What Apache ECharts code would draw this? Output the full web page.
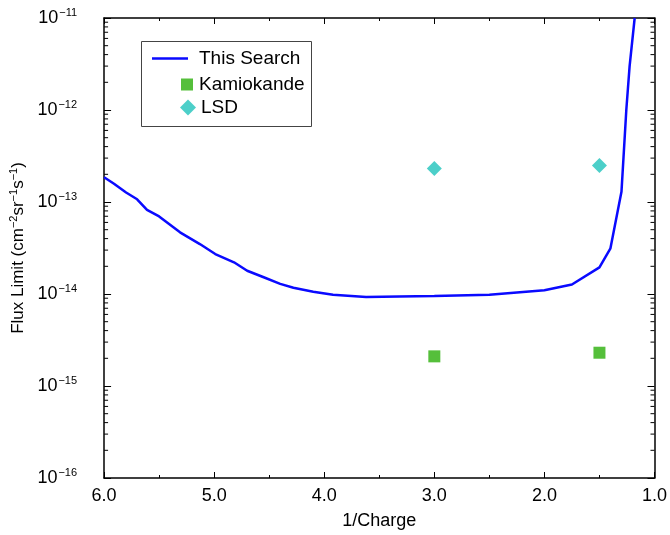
<!DOCTYPE html>
<html>
<head>
<meta charset="utf-8">
<script src="https://cdn.jsdelivr.net/npm/echarts@6/dist/echarts.min.js"></script>
<style>
  html, body { margin: 0; padding: 0; background: #fff; }
</style>
</head>
<body>
<div id="main" style="width: 670px; height: 535px"></div>
<script>
// this search limit curve (1/charge, flux)
var searchX = [6.0, 5.91, 5.80, 5.70, 5.61, 5.50, 5.31, 5.13, 4.99, 4.82, 4.70, 4.55, 4.40, 4.28, 4.10, 3.92, 3.62, 3.32, 3.0, 2.5, 2.0, 1.75, 1.5, 1.4, 1.3, 1.256, 1.226, 1.18];
var searchY = [1.86e-13, 1.58e-13, 1.27e-13, 1.07e-13, 8.2e-14, 6.97e-14, 4.68e-14, 3.49e-14, 2.72e-14, 2.21e-14, 1.79e-14, 1.52e-14, 1.29e-14, 1.17e-14, 1.06e-14, 9.8e-15, 9.3e-15, 9.4e-15, 9.5e-15, 9.8e-15, 1.1e-14, 1.27e-14, 1.95e-14, 3.14e-14, 1.29e-13, 1.0e-12, 3.0e-12, 1.0e-11];
// other experiments
var kamX = [3.0, 1.5];
var kamY = [2.1e-15, 2.3e-15];
var lsdX = [3.0, 1.5];
var lsdY = [2.32e-13, 2.5e-13];
// minor log ticks (2..9 in each decade)
var minorTicks = [];
for (var e = -16; e < -11; e++) {
    for (var k = 2; k <= 9; k++) {
        minorTicks.push(k * Math.pow(10, e));
    }
}

var X_MIN = 1, X_MAX = 6;
var FONT = 'Liberation Sans, Arial, sans-serif';

function pairs(xs, ys) {
    return xs.map(function (x, i) { return [x, ys[i]]; });
}

var supLabel = function (value) {
    var ex = Math.round(Math.log10(value));
    return '{b|10}{s|\u2212' + Math.abs(ex) + '}';
};

var chart = echarts.init(document.getElementById('main'));
var option = {
    animation: false,
    textStyle: { fontFamily: FONT },
    grid: { left: 103, right: 13, top: 18, bottom: 55 },
    graphic: [{
        type: 'rect',
        shape: { x: 141.5, y: 41.5, width: 170, height: 85 },
        style: { fill: '#fff', stroke: '#444', lineWidth: 1 },
        z: 0
    }],
    legend: [{
        data: [{ name: 'This Search', icon: 'rect' }],
        left: 152, top: 49, padding: 0,
        itemWidth: 36, itemHeight: 2.5,
        textStyle: { fontSize: 19, color: '#000', fontFamily: FONT, padding: [0, 0, 0, 6] }
    }, {
        data: [{ name: 'Kamiokande', icon: 'rect' }],
        left: 181, top: 75, padding: 0,
        itemWidth: 12, itemHeight: 12,
        textStyle: { fontSize: 19, color: '#000', fontFamily: FONT, padding: [0, 0, 0, 1] }
    }, {
        data: [{ name: 'LSD', icon: 'diamond' }],
        left: 180, top: 98, padding: 0,
        itemWidth: 16, itemHeight: 16,
        textStyle: { fontSize: 19, color: '#000', fontFamily: FONT }
    }],
    xAxis: [{
        type: 'value', min: X_MIN, max: X_MAX, interval: 1, inverse: true,
        name: '1/Charge', nameLocation: 'middle', nameGap: 34,
        nameTextStyle: { fontSize: 18, color: '#000', fontFamily: FONT },
        axisLine: { lineStyle: { color: '#000', width: 1.5 } },
        axisTick: { inside: true, length: 6, lineStyle: { color: '#000' } },
        minorTick: { show: true, splitNumber: 2, length: 3, lineStyle: { color: '#000' } },
        axisLabel: { fontSize: 18, color: '#000', margin: 9, formatter: function (v) { return v.toFixed(1); } },
        splitLine: { show: false }
    }, {
        type: 'value', min: X_MIN, max: X_MAX, interval: 1, inverse: true, position: 'top',
        axisLine: { lineStyle: { color: '#000', width: 1.5 } },
        axisTick: { inside: true, length: 6, lineStyle: { color: '#000' } },
        minorTick: { show: true, splitNumber: 2, length: 3, lineStyle: { color: '#000' } },
        axisLabel: { show: false },
        splitLine: { show: false }
    }],
    yAxis: [{
        type: 'log', logBase: 10, min: 1e-16, max: 1e-11, interval: 1,
        name: 'Flux Limit (cm{s|\u22122}sr{s|\u22121}s{s|\u22121})',
        nameLocation: 'middle', nameGap: 76, nameRotate: 90,
        nameTextStyle: {
            fontSize: 17, color: '#000', fontFamily: FONT,
            rich: { s: { fontSize: 11, color: '#000', fontFamily: FONT, verticalAlign: 'top', padding: [0, 0, 9, 0] } }
        },
        axisLine: { lineStyle: { color: '#000', width: 1.5 } },
        axisTick: { inside: true, length: 7, lineStyle: { color: '#000' } },
        axisLabel: {
            margin: 27, formatter: supLabel,
            rich: {
                b: { fontSize: 18, color: '#000', fontFamily: FONT },
                s: { fontSize: 11, color: '#000', fontFamily: FONT, verticalAlign: 'top', padding: [0, 0, 10, 1] }
            }
        },
        splitLine: { show: false }
    }, {
        type: 'log', logBase: 10, min: 1e-16, max: 1e-11, interval: 1, position: 'right',
        axisLine: { lineStyle: { color: '#000', width: 1.5 } },
        axisTick: { inside: true, length: 7, lineStyle: { color: '#000' } },
        axisLabel: { show: false },
        splitLine: { show: false }
    }],
    series: [{
        name: 'minor',
        type: 'custom',
        silent: true,
        data: minorTicks.map(function (v) { return [X_MAX, v]; }),
        encode: { x: 0, y: 1 },
        clip: false,
        renderItem: function (params, api) {
            var v = api.value(1);
            var pl = api.coord([X_MAX, v]);
            var pr = api.coord([X_MIN, v]);
            var st = { stroke: '#000', lineWidth: 1 };
            return {
                type: 'group',
                children: [
                    { type: 'line', shape: { x1: pl[0], y1: pl[1], x2: pl[0] + 4, y2: pl[1] }, style: st },
                    { type: 'line', shape: { x1: pr[0], y1: pr[1], x2: pr[0] - 4, y2: pr[1] }, style: st }
                ]
            };
        }
    }, {
        name: 'This Search',
        type: 'line',
        data: pairs(searchX, searchY),
        symbol: 'none',
        lineStyle: { color: '#0a0aff', width: 2.5 },
        itemStyle: { color: '#0a0aff' },
        clip: true,
        z: 3
    }, {
        name: 'Kamiokande',
        type: 'scatter',
        data: pairs(kamX, kamY),
        symbol: 'rect',
        symbolSize: 12,
        itemStyle: { color: '#55bf3b', opacity: 1 },
        z: 4
    }, {
        name: 'LSD',
        type: 'scatter',
        data: pairs(lsdX, lsdY),
        symbol: 'diamond',
        symbolSize: 15,
        itemStyle: { color: '#4ccfc9', opacity: 1 },
        z: 4
    }]
};
chart.setOption(option);
</script>
</body>
</html>
